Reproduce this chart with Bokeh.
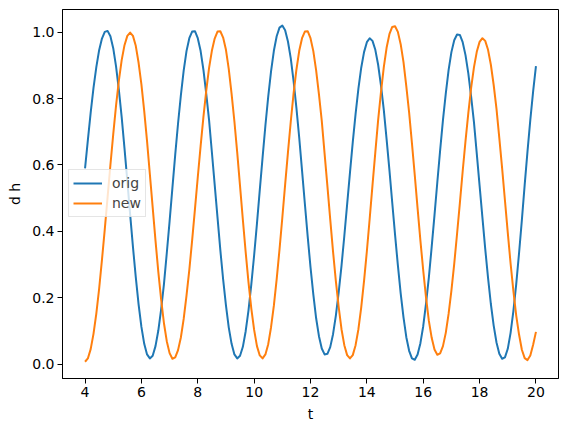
from bokeh.plotting import figure
from bokeh.models import Range1d, FixedTicker, Legend, LegendItem, ColumnDataSource
from bokeh.embed import file_html
from bokeh.resources import INLINE

# ---- data ----
t = [4.0, 4.1, 4.2, 4.3, 4.4, 4.5, 4.6, 4.7, 4.8, 4.9,
     5.0, 5.1, 5.2, 5.3, 5.4, 5.5, 5.6, 5.7, 5.8, 5.9,
     6.0, 6.1, 6.2, 6.3, 6.4, 6.5, 6.6, 6.7, 6.8, 6.9,
     7.0, 7.1, 7.2, 7.3, 7.4, 7.5, 7.6, 7.7, 7.8, 7.9,
     8.0, 8.1, 8.2, 8.3, 8.4, 8.5, 8.6, 8.7, 8.8, 8.9,
     9.0, 9.1, 9.2, 9.3, 9.4, 9.5, 9.6, 9.7, 9.8, 9.9,
     10.0, 10.1, 10.2, 10.3, 10.4, 10.5, 10.6, 10.7, 10.8, 10.9,
     11.0, 11.1, 11.2, 11.3, 11.4, 11.5, 11.6, 11.7, 11.8, 11.9,
     12.0, 12.1, 12.2, 12.3, 12.4, 12.5, 12.6, 12.7, 12.8, 12.9,
     13.0, 13.1, 13.2, 13.3, 13.4, 13.5, 13.6, 13.7, 13.8, 13.9,
     14.0, 14.1, 14.2, 14.3, 14.4, 14.5, 14.6, 14.7, 14.8, 14.9,
     15.0, 15.1, 15.2, 15.3, 15.4, 15.5, 15.6, 15.7, 15.8, 15.9,
     16.0, 16.1, 16.2, 16.3, 16.4, 16.5, 16.6, 16.7, 16.8, 16.9,
     17.0, 17.1, 17.2, 17.3, 17.4, 17.5, 17.6, 17.7, 17.8, 17.9,
     18.0, 18.1, 18.2, 18.3, 18.4, 18.5, 18.6, 18.7, 18.8, 18.9,
     19.0, 19.1, 19.2, 19.3, 19.4, 19.5, 19.6, 19.7, 19.8, 19.9,
     20.0]

orig = [0.590, 0.675, 0.758, 0.832, 0.895, 0.946, 0.981, 1.001, 1.004, 0.988,
        0.952, 0.897, 0.826, 0.744, 0.650, 0.552, 0.451, 0.353, 0.262, 0.180,
        0.112, 0.061, 0.029, 0.017, 0.025, 0.054, 0.101, 0.165, 0.241, 0.334,
        0.430, 0.531, 0.631, 0.725, 0.810, 0.884, 0.943, 0.982, 1.002, 1.003,
        0.982, 0.944, 0.887, 0.815, 0.736, 0.639, 0.541, 0.442, 0.344, 0.255,
        0.177, 0.110, 0.061, 0.029, 0.017, 0.025, 0.052, 0.099, 0.162, 0.240,
        0.328, 0.423, 0.524, 0.623, 0.719, 0.806, 0.882, 0.944, 0.988, 1.014,
        1.020, 1.006, 0.972, 0.921, 0.853, 0.772, 0.682, 0.583, 0.483, 0.385,
        0.292, 0.210, 0.138, 0.084, 0.047, 0.029, 0.031, 0.051, 0.090, 0.146,
        0.216, 0.296, 0.386, 0.481, 0.576, 0.669, 0.754, 0.830, 0.893, 0.940,
        0.970, 0.982, 0.974, 0.947, 0.902, 0.840, 0.767, 0.678, 0.585, 0.487,
        0.390, 0.298, 0.213, 0.141, 0.081, 0.040, 0.017, 0.013, 0.029, 0.063,
        0.114, 0.183, 0.261, 0.353, 0.449, 0.548, 0.644, 0.735, 0.815, 0.886,
        0.940, 0.976, 0.993, 0.992, 0.970, 0.931, 0.876, 0.806, 0.729, 0.634,
        0.538, 0.442, 0.347, 0.260, 0.181, 0.116, 0.065, 0.031, 0.016, 0.020,
        0.046, 0.094, 0.160, 0.241, 0.334, 0.434, 0.540, 0.641, 0.736, 0.822,
        0.898]

new = [0.007, 0.017, 0.045, 0.091, 0.152, 0.227, 0.314, 0.406, 0.503, 0.600,
       0.692, 0.779, 0.854, 0.916, 0.961, 0.989, 0.999, 0.989, 0.959, 0.908,
       0.843, 0.762, 0.672, 0.572, 0.472, 0.372, 0.278, 0.195, 0.123, 0.069,
       0.033, 0.016, 0.020, 0.042, 0.080, 0.136, 0.206, 0.284, 0.373, 0.467,
       0.563, 0.656, 0.744, 0.823, 0.892, 0.944, 0.981, 1.002, 1.003, 0.984,
       0.947, 0.889, 0.814, 0.731, 0.637, 0.536, 0.435, 0.337, 0.246, 0.167,
       0.103, 0.054, 0.026, 0.017, 0.029, 0.060, 0.111, 0.176, 0.256, 0.345,
       0.441, 0.541, 0.638, 0.731, 0.816, 0.887, 0.944, 0.982, 1.002, 1.003,
       0.982, 0.943, 0.885, 0.813, 0.733, 0.634, 0.536, 0.436, 0.339, 0.250,
       0.172, 0.105, 0.057, 0.027, 0.017, 0.027, 0.057, 0.105, 0.171, 0.251,
       0.340, 0.438, 0.539, 0.638, 0.735, 0.819, 0.894, 0.953, 0.994, 1.016,
       1.018, 1.001, 0.964, 0.910, 0.837, 0.758, 0.665, 0.569, 0.469, 0.372,
       0.282, 0.200, 0.130, 0.079, 0.044, 0.028, 0.032, 0.054, 0.094, 0.151,
       0.221, 0.302, 0.392, 0.485, 0.581, 0.672, 0.756, 0.832, 0.894, 0.941,
       0.971, 0.982, 0.974, 0.947, 0.902, 0.841, 0.769, 0.681, 0.590, 0.493,
       0.396, 0.303, 0.220, 0.146, 0.089, 0.043, 0.018, 0.012, 0.026, 0.058,
       0.097]

series_names = ["orig", "new"]
series_colors = ["#1f77b4", "#ff7f0e"]

x_ticks = [4, 6, 8, 10, 12, 14, 16, 18, 20]
x_tick_labels = ["4", "6", "8", "10", "12", "14", "16", "18", "20"]
y_ticks = [0.0, 0.2, 0.4, 0.6, 0.8, 1.0]
y_tick_labels = ["0.0", "0.2", "0.4", "0.6", "0.8", "1.0"]

FONT = "DejaVu Sans"

p = figure(width=567, height=432, output_backend="svg", toolbar_location=None,
           x_range=Range1d(3.2, 20.8), y_range=Range1d(-0.0435, 1.0685),
           min_border_left=62, min_border_right=9, min_border_top=9,
           min_border_bottom=54)

p.background_fill_color = "white"
p.border_fill_color = "white"
p.outline_line_color = "black"
p.outline_line_width = 1
p.xgrid.visible = False
p.ygrid.visible = False

src = ColumnDataSource(dict(t=t, orig=orig, new=new))
renderers = []
for name, col in zip(series_names, series_colors):
    r = p.line("t", name, source=src, line_color=col, line_width=2,
               line_join="round")
    renderers.append(r)

for ax, ticks, labels, lab in ((p.xaxis[0], x_ticks, x_tick_labels, "t"),
                               (p.yaxis[0], y_ticks, y_tick_labels, "d h")):
    ax.ticker = FixedTicker(ticks=ticks)
    ax.major_label_overrides = {tk: lb for tk, lb in zip(ticks, labels)}
    ax.axis_label = lab
    ax.axis_label_text_font = FONT
    ax.axis_label_text_font_size = "14px"
    ax.axis_label_text_font_style = "normal"
    ax.axis_label_text_color = "black"
    ax.major_label_text_font = FONT
    ax.major_label_text_font_size = "14px"
    ax.major_label_text_color = "black"
    ax.major_tick_in = 0
    ax.major_tick_out = 5
    ax.minor_tick_line_color = None
    ax.major_tick_line_color = "black"
    ax.axis_line_color = "black"
    ax.major_label_standoff = 3
    ax.axis_label_standoff = 6

legend = Legend(items=[LegendItem(label=n, renderers=[r]) for n, r in zip(series_names, renderers)],
                location=(6, 161), margin=0, padding=4, spacing=2,
                label_text_font=FONT, label_text_font_size="14px",
                label_height=18, glyph_height=18, glyph_width=29, label_standoff=10,
                border_line_color="#cccccc", border_line_width=1,
                background_fill_color="white", background_fill_alpha=0.8)
p.add_layout(legend, "center")

open("out.html", "w").write(file_html(p, INLINE))
